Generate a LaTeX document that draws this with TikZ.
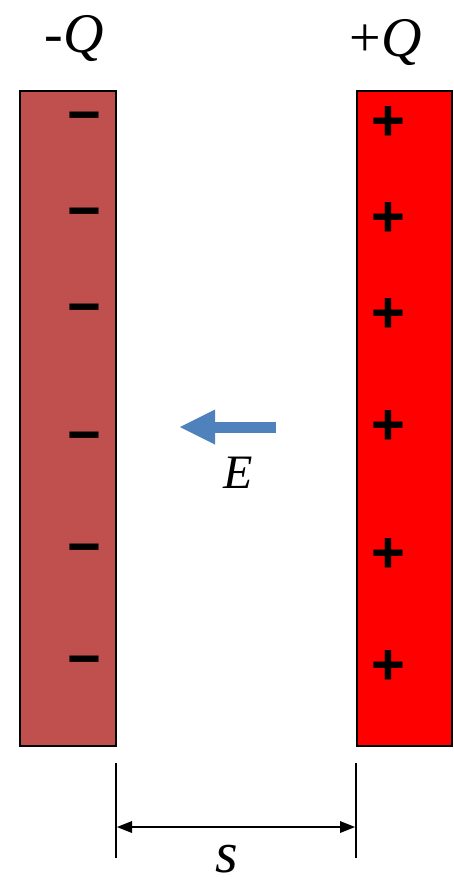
\documentclass[tikz,border=0pt]{standalone}
\usepackage{fontspec}
\newfontfamily\fa{Liberation Serif}
\newfontfamily\fc{Liberation Sans}
\usetikzlibrary{arrows.meta}
\definecolor{negplate}{HTML}{C0504D}
\definecolor{posplate}{HTML}{FF0000}
\definecolor{fieldblue}{HTML}{4F81BD}
\tikzset{
  plate/.style={draw=black, line width=2pt, minimum width=95pt, minimum height=655pt, inner sep=0pt},
  sign/.style={inner sep=0pt, font=\fc\bfseries\fontsize{58}{58}\selectfont},
  lbl/.style={inner sep=0pt, font=\fa\fontsize{56}{56}\selectfont},
  dimline/.style={line width=2pt, black},
}
\begin{document}
\begin{tikzpicture}[x=1pt, y=-1pt]
\useasboundingbox (0,0) rectangle (454,885);
% plates
\node[plate, fill=negplate, minimum width=96pt] (lp) at (68,418.5) {};
\node[plate, fill=posplate] (rp) at (404.5,418.5) {};
% labels
\node[lbl, anchor=base] (lq) at (74,53) {-{\itshape Q}};
\node[lbl, anchor=base] (rq) at (386,57) {+{\itshape Q}};
% minus signs
\foreach \y [count=\i] in {123,219,315,443,555,667}
  \node[sign] (m\i) at (84,\y) {−};
% plus signs
\foreach \y [count=\i] in {123,219,315,427,555,667}
  \node[sign] (p\i) at (388,\y) {+};
% field arrow
\coordinate (Es) at (276,427);
\coordinate (Ee) at (180,427);
\draw[fieldblue, line width=11pt, -{Triangle[length=35pt,width=35pt,line width=0pt]}] (Es) -- (Ee);
\node[inner sep=0pt, font=\fa\fontsize{48}{48}\selectfont] (E) at (238,473) {\itshape E};
% dimension
\coordinate (d1t) at (116,763);
\coordinate (d1b) at (116,858);
\coordinate (d2t) at (356,763);
\coordinate (d2b) at (356,858);
\draw[dimline] (d1t) -- (d1b);
\draw[dimline] (d2t) -- (d2b);
\coordinate (al) at (117,827);
\coordinate (ar) at (355,827);
\draw[dimline, {Triangle[length=15pt,width=12pt,line width=0pt]}-{Triangle[length=15pt,width=12pt,line width=0pt]}] (al) -- (ar);
\node[inner sep=0pt, anchor=base, font=\fa\fontsize{58}{58}\selectfont] (s) at (227,872) {\itshape s};
\end{tikzpicture}
\end{document}
